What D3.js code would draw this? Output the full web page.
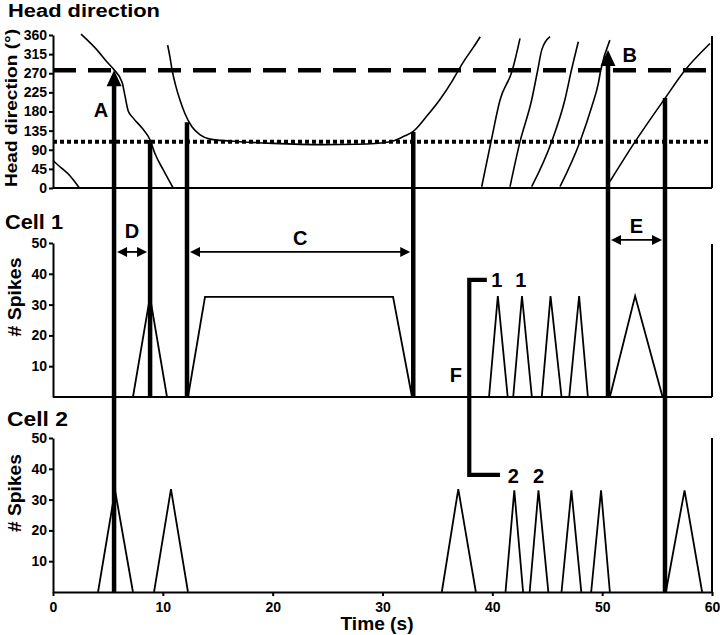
<!DOCTYPE html>
<html><head><meta charset="utf-8">
<script src="https://cdn.jsdelivr.net/npm/d3@7"></script>
<style>
body{margin:0;background:#fff}
text{font-family:"Liberation Sans",Arial,Helvetica,sans-serif;font-weight:bold;fill:#000}
</style>
</head><body>
<svg id="chart" width="720" height="635"></svg>
<script>
// ---------- data ----------
const timeTicks = [0, 10, 20, 30, 40, 50, 60];
const hdTicks = [0, 45, 90, 135, 180, 225, 270, 315, 360];
const spikeTicks = [10, 20, 30, 40, 50];

const dashedHD = 277;   // preferred direction cell 1
const dottedHD = 109;   // preferred direction cell 2

// head direction traces [time (s), degrees]
const hdTrace1 = [[0, 65], [0.5, 53], [1, 42], [1.5, 30], [2, 14], [2.4, 0]];
const hdTrace2 = [[2.55, 362], [4.0, 325], [4.9, 297], [5.56, 278], [6.29, 249], [6.56, 216], [6.84, 182],
                  [7.29, 165], [8.11, 141], [8.84, 113], [9.3, 80], [10.03, 43], [10.94, 0]];
const hdTrace3 = [[10.44, 336], [10.65, 308], [10.85, 277], [11.2, 238], [11.56, 207], [12.0, 176],
                  [12.65, 144], [13.4, 125], [14.3, 115], [16.4, 110], [17.0, 109], [20.0, 105],
                  [24.6, 102], [27.7, 103], [30.7, 109], [31.9, 121], [32.8, 133], [34.0, 168],
                  [35.2, 207], [36.4, 254], [37.3, 294], [38.3, 332], [38.9, 356]];
const hdTrace4 = [[39.03, 3], [39.88, 109], [40.7, 207], [41.82, 277], [42.52, 352]];
const hdTrace5 = [[41.61, 3], [42.52, 109], [43.58, 207], [44.13, 277], [44.5, 325], [45.25, 356]];
const hdTrace6 = [[43.58, 3], [45.4, 109], [46.6, 207], [47.2, 277], [47.83, 344]];
const hdTrace7 = [[46.16, 3], [47.98, 109], [49.05, 191], [49.65, 246], [49.87, 277], [50.7, 348]];
const hdTrace8 = [[50.7, 15], [53.0, 109], [55.72, 211], [57.54, 277], [59.82, 340]];
const hdTraces = [hdTrace1, hdTrace2, hdTrace3, hdTrace4, hdTrace5, hdTrace6, hdTrace7, hdTrace8];

// firing rate envelopes [time (s), # spikes]
const cell1Spikes = [
  [[7.28, 0], [8.83, 32.5], [10.38, 0]],
  [[12.29, 0], [13.84, 32.5], [30.96, 32.5], [32.69, 0]],
  [[39.7, 0], [40.5, 32.8], [41.4, 0]],
  [[41.9, 0], [42.7, 32.8], [43.6, 0]],
  [[44.5, 0], [45.3, 32.8], [46.3, 0]],
  [[47.0, 0], [47.9, 32.8], [48.7, 0]],
  [[50.7, 0], [53.0, 32.8], [55.5, 0]]
];
const cell2Spikes = [
  [[4.1, 0], [5.65, 33], [7.28, 0]],
  [[9.2, 0], [10.74, 33.4], [12.29, 0]],
  [[35.4, 0], [36.9, 33.4], [38.5, 0]],
  [[41.2, 0], [42.0, 33], [42.8, 0]],
  [[43.4, 0], [44.2, 33], [45.1, 0]],
  [[46.3, 0], [47.2, 33], [48.1, 0]],
  [[49.0, 0], [49.9, 33], [50.7, 0]],
  [[55.8, 0], [57.5, 33], [59.1, 0]]
];

// event markers: time, head direction at top, arrow?, panel where the marker ends
const events = [
  {t: 5.56, hd: 277, arrow: true, to: "cell2"},
  {t: 8.84, hd: 113, arrow: false, to: "cell1"},
  {t: 12.2, hd: 155, arrow: false, to: "cell1"},
  {t: 32.8, hd: 132, arrow: false, to: "cell1"},
  {t: 50.53, hd: 325, arrow: true, to: "cell1"},
  {t: 55.72, hd: 212, arrow: false, to: "cell2"}
];
const eventLabels = [{t: 4.37, hd: 167, text: "A"}, {t: 52.5, hd: 296, text: "B"}];

// intervals (cell 1 panel units)
const intervals = [
  {from: 5.56, to: 8.84, level: 47.1, label: "D", labelLevel: 51.6},
  {from: 12.2, to: 32.8, level: 47.1, label: "C", labelLevel: 49.4},
  {from: 50.53, to: 55.72, level: 51.0, label: "E", labelLevel: 53.2}
];
// bracket F
const bracket = {t: 37.9, top: 38, bottom: 38, topEnd: 39.5, bottomEnd: 40.7};
const bracketLabels1 = [{t: 40.4, text: "1"}, {t: 42.6, text: "1"}];
const bracketLabels2 = [{t: 41.9, text: "2"}, {t: 44.2, text: "2"}];

// ---------- scales ----------
const svg = d3.select("#chart");
const x = d3.scaleLinear().domain([0, 60]).range([53, 712]);
const yHD = d3.scaleLinear().domain([0, 360]).range([188, 35]);
const y1 = d3.scaleLinear().domain([0, 50]).range([397, 243]);
const y2 = d3.scaleLinear().domain([0, 50]).range([592, 438]);

// ---------- axes ----------
function leftAxis(scale, ticks) {
  const g = svg.append("g").attr("transform", `translate(${x(0)},0)`)
    .call(d3.axisLeft(scale).tickValues(ticks).tickSize(4).tickSizeOuter(0).tickPadding(2));
  g.selectAll("path,line").attr("stroke", "#000").attr("stroke-width", 2);
  g.selectAll("text").style("font-size", "14px").style("font-family", '"Liberation Sans",Arial,sans-serif').style("font-weight", "bold");
  return g;
}
leftAxis(yHD, hdTicks);
leftAxis(y1, spikeTicks);
leftAxis(y2, spikeTicks);

function baseLine(scale) {
  svg.append("line").attr("x1", x(0)).attr("x2", x(60)).attr("y1", scale(0)).attr("y2", scale(0))
    .attr("stroke", "#000").attr("stroke-width", 2);
  svg.append("line").attr("x1", x(60)).attr("x2", x(60)).attr("y1", scale(0)).attr("y2", scale.range()[1] + 1)
    .attr("stroke", "#000").attr("stroke-width", 2);
}
baseLine(yHD); baseLine(y1);
svg.append("line").attr("x1", x(60)).attr("x2", x(60)).attr("y1", y2(0)).attr("y2", y2(50))
  .attr("stroke", "#000").attr("stroke-width", 2);
const bx = svg.append("g").attr("transform", `translate(0,${y2(0)})`)
  .call(d3.axisBottom(x).tickValues(timeTicks).tickSize(4).tickSizeOuter(0).tickPadding(6));
bx.selectAll("path,line").attr("stroke", "#000").attr("stroke-width", 2);
bx.selectAll("text").style("font-size", "14px").style("font-family", '"Liberation Sans",Arial,sans-serif').style("font-weight", "bold");

// ---------- reference lines ----------
svg.append("line").attr("x1", x(0)).attr("x2", x(60)).attr("y1", yHD(dashedHD)).attr("y2", yHD(dashedHD))
  .attr("stroke", "#000").attr("stroke-width", 4.5).attr("stroke-dasharray", "23,12");
svg.append("line").attr("x1", x(0)).attr("x2", x(60)).attr("y1", yHD(dottedHD)).attr("y2", yHD(dottedHD))
  .attr("stroke", "#000").attr("stroke-width", 4).attr("stroke-dasharray", "4,3");

// ---------- head direction traces ----------
const hdLine = d3.line().x(d => x(d[0])).y(d => yHD(d[1])).curve(d3.curveMonotoneX);
svg.append("g").selectAll("path").data(hdTraces).join("path")
  .attr("d", hdLine).attr("fill", "none").attr("stroke", "#000").attr("stroke-width", 1.6);

// ---------- spikes ----------
const s1 = d3.line().x(d => x(d[0])).y(d => y1(d[1]));
const s2 = d3.line().x(d => x(d[0])).y(d => y2(d[1]));
svg.append("g").selectAll("path").data(cell1Spikes).join("path")
  .attr("d", s1).attr("fill", "none").attr("stroke", "#000").attr("stroke-width", 1.8).attr("stroke-linejoin", "miter");
svg.append("g").selectAll("path").data(cell2Spikes).join("path")
  .attr("d", s2).attr("fill", "none").attr("stroke", "#000").attr("stroke-width", 1.8).attr("stroke-linejoin", "miter");

// ---------- event markers ----------
events.forEach(e => {
  const xx = x(e.t);
  const top = yHD(e.hd);
  const bottom = e.to === "cell2" ? y2(0) : y1(0);
  svg.append("line").attr("x1", xx).attr("x2", xx).attr("y1", e.arrow ? top + 12 : top).attr("y2", bottom)
    .attr("stroke", "#000").attr("stroke-width", 4.5);
  if (e.arrow) {
    svg.append("path").attr("d", `M${xx},${top} L${xx - 7.5},${top + 16} L${xx + 7.5},${top + 16} Z`).attr("fill", "#000");
  }
});
svg.append("g").selectAll("text").data(eventLabels).join("text")
  .attr("x", d => x(d.t)).attr("y", d => yHD(d.hd)).attr("text-anchor", "middle")
  .style("font-size", "20px").text(d => d.text);

// ---------- intervals ----------
intervals.forEach(iv => {
  const xa = x(iv.from) + 3, xb = x(iv.to) - 3, yy = y1(iv.level);
  const hl = 10, hw = 5;
  svg.append("line").attr("x1", xa + 4).attr("x2", xb - 4).attr("y1", yy).attr("y2", yy)
    .attr("stroke", "#000").attr("stroke-width", 1.8);
  svg.append("path").attr("d", `M${xa},${yy} L${xa + hl},${yy - hw} L${xa + hl},${yy + hw} Z`).attr("fill", "#000");
  svg.append("path").attr("d", `M${xb},${yy} L${xb - hl},${yy - hw} L${xb - hl},${yy + hw} Z`).attr("fill", "#000");
  svg.append("text").attr("x", (x(iv.from) + x(iv.to)) / 2).attr("y", y1(iv.labelLevel))
    .attr("text-anchor", "middle").style("font-size", "20px").text(iv.label);
});

// ---------- bracket F ----------
const bxp = x(bracket.t);
svg.append("path")
  .attr("d", `M${x(bracket.topEnd)},${y1(bracket.top)} H${bxp} V${y2(bracket.bottom)} H${x(bracket.bottomEnd)}`)
  .attr("fill", "none").attr("stroke", "#000").attr("stroke-width", 4.2).attr("stroke-linejoin", "miter");
svg.append("text").attr("x", bxp - 13.5).attr("y", 382).attr("text-anchor", "middle").style("font-size", "20px").text("F");
svg.append("g").selectAll("text").data(bracketLabels1).join("text")
  .attr("x", d => x(d.t)).attr("y", y1(bracket.top) + 7.5).attr("text-anchor", "middle")
  .style("font-size", "20px").text(d => d.text);
svg.append("g").selectAll("text").data(bracketLabels2).join("text")
  .attr("x", d => x(d.t)).attr("y", y2(bracket.bottom) + 8.5).attr("text-anchor", "middle")
  .style("font-size", "20px").text(d => d.text);

// ---------- titles ----------
svg.append("text").attr("x", 8).attr("y", 16.5).style("font-size", "18px")
  .attr("textLength", 152).attr("lengthAdjust", "spacingAndGlyphs").text("Head direction");
svg.append("text").attr("x", 5).attr("y", 229).style("font-size", "21px")
  .attr("textLength", 58).attr("lengthAdjust", "spacingAndGlyphs").text("Cell 1");
svg.append("text").attr("x", 7).attr("y", 426).style("font-size", "20px")
  .attr("textLength", 61).attr("lengthAdjust", "spacingAndGlyphs").text("Cell 2");
svg.append("text").attr("transform", "translate(16.5,108) rotate(-90)").attr("text-anchor", "middle")
  .style("font-size", "17px").attr("textLength", 158).attr("lengthAdjust", "spacingAndGlyphs").text("Head direction (°)");
svg.append("text").attr("transform", "translate(21,297) rotate(-90)").attr("text-anchor", "middle")
  .style("font-size", "18px").attr("textLength", 79).attr("lengthAdjust", "spacingAndGlyphs").text("# Spikes");
svg.append("text").attr("transform", "translate(21,493) rotate(-90)").attr("text-anchor", "middle")
  .style("font-size", "18px").attr("textLength", 78).attr("lengthAdjust", "spacingAndGlyphs").text("# Spikes");
svg.append("text").attr("x", 377).attr("y", 630).attr("text-anchor", "middle").style("font-size", "18px")
  .attr("textLength", 73).attr("lengthAdjust", "spacingAndGlyphs").text("Time (s)");
</script>
</body></html>
